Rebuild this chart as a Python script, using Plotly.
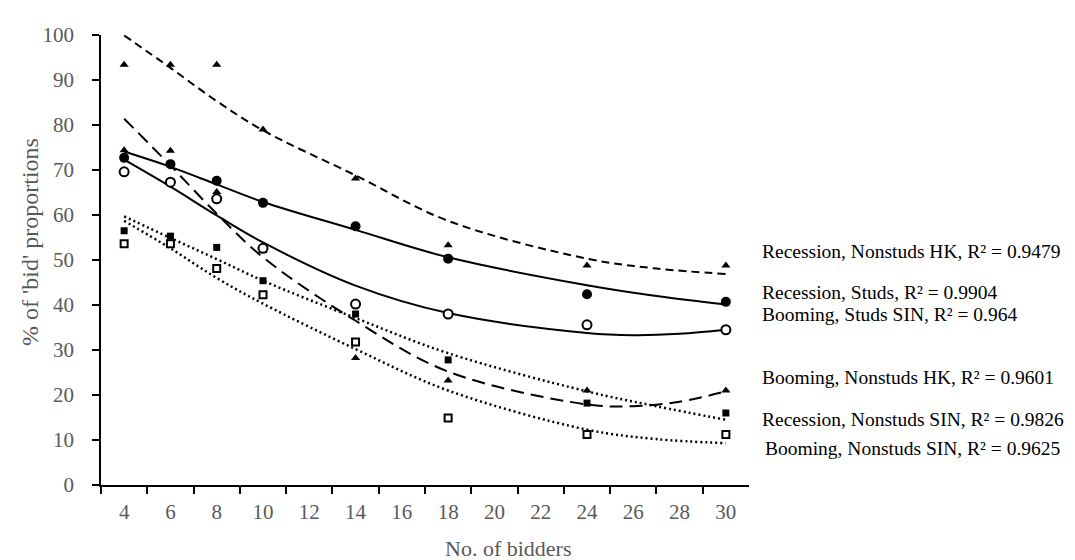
import plotly.graph_objects as go

# ---- data ----
bidders = [4, 6, 8, 10, 14, 18, 24, 30]

rec_nonstuds_hk = [93.4, 93.4, 93.4, 79.0, 68.1, 53.3, 48.8, 48.8]
rec_studs = [72.7, 71.3, 67.6, 62.7, 57.5, 50.3, 42.4, 40.7]
boom_studs_sin = [69.6, 67.3, 63.6, 52.6, 40.2, 38.0, 35.6, 34.5]
boom_nonstuds_hk = [74.4, 74.3, 65.1, 52.0, 28.2, 23.2, 21.0, 21.0]
rec_nonstuds_sin = [56.5, 55.3, 52.8, 45.4, 38.0, 27.8, 18.2, 16.0]
boom_nonstuds_sin = [53.6, 53.6, 48.1, 42.3, 31.8, 14.9, 11.2, 11.2]

# trendline samples
trend_x_a = [4, 6, 8, 10, 14, 18, 24, 27, 30]
trend_x_b = [4, 6, 8, 10, 14, 18, 24, 26, 28, 30]
trend_rec_nonstuds_hk = [99.9, 92.7, 85.3, 78.8, 68.8, 58.7, 50.3, 48.1, 46.9]
trend_rec_studs = [74.1, 70.7, 66.8, 62.9, 56.7, 50.6, 44.4, 42.0, 40.1]
trend_boom_studs_sin = [72.3, 66.3, 59.9, 53.9, 44.3, 38.2, 33.8, 33.3, 33.6, 34.5]
trend_boom_nonstuds_hk = [81.4, 71.0, 60.3, 50.6, 36.5, 25.2, 17.9, 17.5, 18.5, 20.8]
trend_rec_nonstuds_sin = [59.7, 54.9, 50.2, 45.4, 37.1, 29.3, 20.8, 17.5, 14.5]
trend_boom_nonstuds_sin = [58.7, 52.6, 46.0, 40.3, 30.2, 21.0, 12.3, 10.2, 9.3]

x_ticks = [4, 6, 8, 10, 12, 14, 16, 18, 20, 22, 24, 26, 28, 30]
y_ticks = [0, 10, 20, 30, 40, 50, 60, 70, 80, 90, 100]

trend_labels = [
    "Recession, Nonstuds HK, R² = 0.9479",
    "Recession, Studs, R² = 0.9904",
    "Booming, Studs SIN, R² = 0.964",
    "Booming, Nonstuds HK, R² = 0.9601",
    "Recession, Nonstuds SIN, R² = 0.9826",
    "Booming, Nonstuds SIN, R² = 0.9625",
]

FONT = "Liberation Serif"
GRAY = "#595959"

fig = go.Figure()

trends = [
    (trend_x_a, trend_rec_nonstuds_hk, "8px,5px", 2),
    (trend_x_a, trend_rec_studs, "solid", 2),
    (trend_x_b, trend_boom_studs_sin, "solid", 2),
    (trend_x_b, trend_boom_nonstuds_hk, "13px,7px", 2),
    (trend_x_a, trend_rec_nonstuds_sin, "2px,3px", 2.5),
    (trend_x_a, trend_boom_nonstuds_sin, "2px,3px", 2.5),
]
for tx, ty, dash, w in trends:
    fig.add_trace(go.Scatter(x=tx, y=ty, mode="lines",
                             line=dict(color="black", width=w, dash=dash, shape="spline", smoothing=1.0),
                             hoverinfo="skip", showlegend=False))

markers = [
    (rec_nonstuds_hk, "triangle-up", 8, "black", 0),
    (boom_nonstuds_hk, "triangle-up", 8, "black", 0),
    (rec_studs, "circle", 10, "black", 0),
    (boom_studs_sin, "circle", 9, "white", 2),
    (rec_nonstuds_sin, "square", 7, "black", 0),
    (boom_nonstuds_sin, "square", 7, "white", 2),
]
for vals, sym, size, fill, lw in markers:
    fig.add_trace(go.Scatter(x=bidders, y=vals, mode="markers",
                             marker=dict(symbol=sym, size=size, color=fill,
                                         line=dict(color="black", width=lw)),
                             showlegend=False))

label_y_px = [243.3, 285, 306, 369.3, 411.7, 440.7]
label_x_px = [752, 752, 752, 752, 752, 755]
PL, PR, PT, PB = 93, 741, 27, 477
for txt, lx, ly in zip(trend_labels, label_x_px, label_y_px):
    fig.add_annotation(text=txt, xref="paper", yref="paper",
                       x=(lx - PL) / (PR - PL), y=(PB - ly) / (PB - PT),
                       xanchor="left", yanchor="middle", showarrow=False,
                       font=dict(family=FONT, size=19.5, color="black"))

fig.add_annotation(text="% of 'bid' proportions", xref="paper", yref="paper",
                   x=(22 - PL) / (PR - PL), y=(PB - 234) / (PB - PT),
                   xanchor="center", yanchor="middle", textangle=-90, showarrow=False,
                   font=dict(family=FONT, size=24, color=GRAY))
fig.add_annotation(text="No. of bidders", xref="paper", yref="paper",
                   x=(500 - PL) / (PR - PL), y=(PB - 540) / (PB - PT),
                   xanchor="center", yanchor="middle", showarrow=False,
                   font=dict(family=FONT, size=22, color=GRAY))

fig.update_layout(
    width=1075, height=560,
    margin=dict(l=PL, r=1075 - PR, t=PT, b=560 - PB),
    paper_bgcolor="white", plot_bgcolor="white",
    showlegend=False,
    xaxis=dict(range=[3, 31], tickmode="array", tickvals=x_ticks,
               ticktext=[str(v) for v in x_ticks], ticks="", showgrid=False,
               zeroline=False, showline=True, linecolor="black", linewidth=1.5,
               ticklabelstandoff=7,
               tickfont=dict(family=FONT, size=21, color=GRAY),
               minor=dict(tickmode="array", tickvals=list(range(3, 31, 2)),
                          ticks="outside", ticklen=7, tickcolor="black", tickwidth=1.5)),
    yaxis=dict(range=[0, 100], tickmode="array", tickvals=y_ticks,
               ticks="outside", ticklen=7, tickcolor="black", tickwidth=1.5,
               showgrid=False, zeroline=False, showline=True, linecolor="black",
               linewidth=1.5, ticklabelstandoff=14,
               tickfont=dict(family=FONT, size=21, color=GRAY)),
)

fig.write_html("out.html")
